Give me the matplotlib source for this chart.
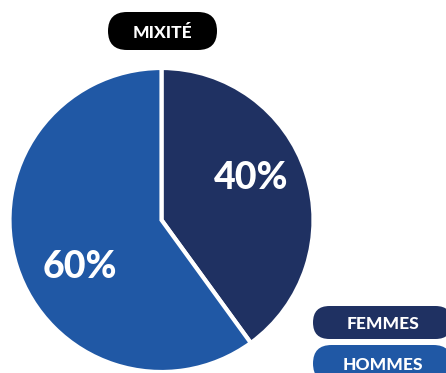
import matplotlib
matplotlib.use("Agg")
import numpy as np
import matplotlib.pyplot as plt
from matplotlib.patches import FancyBboxPatch

W, H = 446, 373
TITLE = "MIXITÉ"
LABELS = ["FEMMES", "HOMMES"]
VALUES = [40, 60]
COLORS = ["#1f3162", "#2058a5"]
FONT = ["Lato", "DejaVu Sans"]

CX, CY, R = 161.5, H - 220, 152
# where the percent labels sit (angle in degrees, fraction of radius)
LABEL_POS = [(25, 0.65), (210, 0.62)]

fig = plt.figure(figsize=(W / 100, H / 100), dpi=100)
ax = fig.add_axes([0, 0, 1, 1])

wedges, texts, autotexts = ax.pie(
    VALUES, colors=COLORS, startangle=90, counterclock=False,
    center=(CX, CY), radius=R,
    wedgeprops=dict(edgecolor="white", linewidth=3),
    autopct=lambda p: "{:.0f}%".format(p),
    textprops=dict(color="white", fontsize=27, fontweight=900, family=FONT),
)
for t, (ang, d) in zip(autotexts, LABEL_POS):
    a = np.deg2rad(ang)
    t.set_position((CX + d * R * np.cos(a), CY + d * R * np.sin(a)))

def badge(x0, y0, x1, y1, text, color, size):
    h = y1 - y0
    box = FancyBboxPatch((x0, H - y1), x1 - x0, h,
                         boxstyle="round,pad=0,rounding_size={}".format(h / 2),
                         facecolor=color, edgecolor="none", clip_on=False)
    ax.add_patch(box)
    ax.text((x0 + x1) / 2, H - (y0 + y1) / 2, text, color="white",
            fontsize=size, fontweight=900, family=FONT,
            ha="center", va="center_baseline")

badge(108, 12, 217, 50, TITLE, "black", 12.5)
badge(313, 306, 452, 339, LABELS[0], COLORS[0], 12.5)
badge(313, 345, 452, 382, LABELS[1], COLORS[1], 12.5)

ax.set_xlim(0, W)
ax.set_ylim(0, H)
ax.set_aspect("equal")
ax.axis("off")

fig.savefig("out.png", dpi=100)
